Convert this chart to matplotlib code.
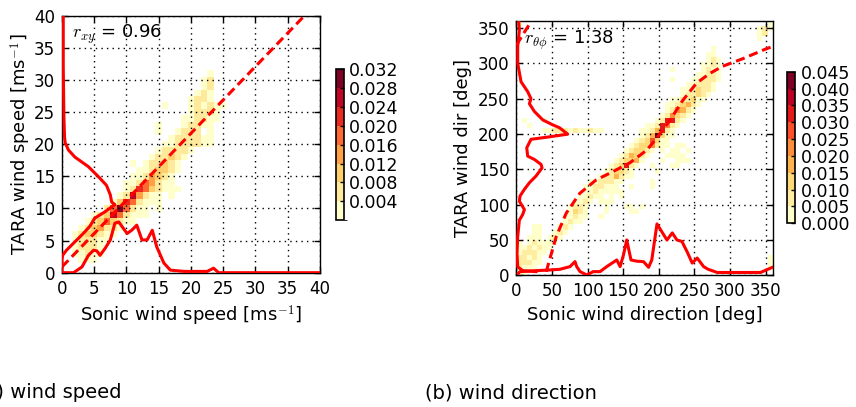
import numpy as np
import matplotlib
matplotlib.use("Agg")
import matplotlib.pyplot as plt
from matplotlib.colors import BoundaryNorm

plt.rcParams["font.family"] = "DejaVu Sans"
plt.rcParams["mathtext.fontset"] = "cm"

# ---------------- wind speed: joint density (1 m/s bins, centred on integers) ----------------
# each entry: (row y, first column x, density levels; '.' = empty, n -> level n)
speed_rows = [
    (31, 23, "1"),
    (30, 22, "12"),
    (29, 22, "12"),
    (28, 21, "121"),
    (27, 20, "1221"),
    (26, 16, "1...121211"),
    (25, 20, "12221"),
    (24, 19, "112211"),
    (23, 15, "1...12211"),
    (22, 15, "1..1222.1"),
    (21, 17, "1222211"),
    (20, 16, "11222211"),
    (19, 15, "122221"),
    (18, 14, "122321"),
    (17, 11, "1.122321"),
    (16, 12, "1123321"),
    (15, 11, "1124321"),
    (14, 10, "11254211"),
    (13, 10, "126532111"),
    (12, 9, "1274211.1"),
    (11, 8, "13652111"),
    (10, 7, "2585211.1"),
    (9, 5, "123752111"),
    (8, 4, "12353211"),
    (7, 3, "1234221"),
    (6, 2, "1233211"),
    (5, 2, "122211"),
    (4, 2, "12221"),
    (3, 2, "11211"),
    (2, 3, "111"),
]
speed_levels = [0.000, 0.004, 0.008, 0.012, 0.016, 0.020, 0.024, 0.028, 0.032]

# marginal density of the sonic speed (drawn along the x axis)
speed_x_pdf_x = [0, 1.8, 3.1, 4.1, 4.9, 5.4, 5.9, 6.7, 7.5, 8.2, 8.8, 9.3, 10.1,
                 10.8, 11.6, 12.4, 13.2, 14.0, 14.7, 15.8, 16.8, 18.9, 22.5,
                 23.5, 24.3, 40]
speed_x_pdf_y = [0, 0, 0.9, 2.7, 3.5, 3.4, 2.7, 3.8, 5.1, 7.7, 7.9, 7.2, 6.1,
                 6.6, 7.4, 5.1, 5.1, 6.6, 4.0, 1.5, 0.4, 0.2, 0.2,
                 0.7, 0, 0]
# marginal density of the TARA speed (drawn along the y axis)
speed_y_pdf_y = [40, 32, 24.2, 21.1, 20.2, 19.1, 18.0, 16.5, 15.0, 13.6, 12.1,
                 11.0, 10.6, 9.5, 8.5, 7.2, 6.1, 4.8, 3.5, 2.7, 2.0, 0]
speed_y_pdf_x = [0.2, 0.2, 0.3, 0.4, 0.5, 1.0, 2.0, 4.1, 5.6, 6.9, 7.5,
                 7.7, 8.2, 6.7, 5.1, 4.3, 3.3, 2.0, 0.7, 0.1, 0, 0]
# linear fit
speed_fit_x = [0, 40]
speed_fit_y = [0.9, 42.5]
speed_r = 0.96

# ---------------- wind direction: joint density (7.2 deg bins) ----------------
dir_rows = [
    (49, 0, "1"), (49, 49, "1"),
    (48, 47, "121"),
    (47, 47, "12"),
    (46, 47, "1"),
    (44, 38, "1"),
    (43, 37, "11"),
    (42, 37, "121"),
    (41, 36, "1121"),
    (40, 30, "1.....1211"),
    (39, 35, "11221"),
    (38, 30, "1...112221"),
    (37, 33, "112221"),
    (36, 32, "1123221"),
    (35, 32, "122321"),
    (34, 30, "1122311"),
    (33, 29, "1123421"),
    (32, 29, "125421"),
    (31, 28, "125321"),
    (30, 1, "1...1"), (30, 27, "127721"),
    (29, 2, "1"), (29, 25, "1127521"),
    (28, 5, "112221211211"), (28, 24, "1124721"),
    (27, 24, "1249311"),
    (26, 23, "1236311"),
    (25, 22, "12335211.11"),
    (24, 21, "123321.1.11.1"),
    (23, 20, "124321...1111"),
    (22, 19, "123341...1..111"),
    (21, 18, "123721..1...11"),
    (20, 17, "123321....1"),
    (19, 16, "1224211"),
    (18, 14, "1122211.....1"),
    (17, 13, "1122111..1...1"),
    (16, 13, "11211111"),
    (15, 12, "11211.1.1"),
    (14, 11, "1121.111"),
    (13, 10, "1221...1...11.1"),
    (12, 10, "1321...1....11"),
    (11, 9, "11211..1"),
    (10, 9, "1211"),
    (9, 3, "11...121"),
    (8, 3, "11..121"),
    (7, 2, "111.121"),
    (6, 0, "1.121111"),
    (5, 0, "1121211"),
    (4, 0, "122211"),
    (3, 0, "22121"), (3, 49, "1"),
    (2, 0, "22211"), (2, 49, "1"),
    (1, 0, "2111"), (1, 49, "1"),
    (0, 0, "11"),
]
dir_levels = [0.000, 0.005, 0.010, 0.015, 0.020, 0.025, 0.030, 0.035, 0.040, 0.045]
dir_ticks = ["0", "50", "100", "150", "200", "250", "300", "350"]

dir_x_pdf_x = [2.7, 5, 28.4, 46.3, 61.2, 75.3, 82.3, 84.7, 89.4, 98.8, 108.1,
               117.5, 126.9, 141, 145.7, 150.4, 155, 161, 169, 178.6, 185.7,
               190.2, 197.5, 211.5, 219, 225.5, 232.5, 240, 247, 254, 263,
               269, 282, 343, 359]
dir_x_pdf_y = [2.8, 5.2, 6.6, 7.5, 8.5, 12.3, 19.4, 12.3, 5.2, 0.5, 5.2,
               5.2, 12.3, 21.7, 12.3, 28.8, 50, 21.7, 20.0, 19.3, 11.3,
               21.7, 72.7, 50, 60, 50, 48, 33, 17.3, 24.4, 12.3,
               8.7, 4, 4, 11]
dir_y_pdf_y = [361.6, 347, 324, 300, 274, 260, 250, 243, 232, 220, 213, 209,
               199.8, 196, 192.5, 180.5, 168.7, 164, 157, 152, 140.6, 131,
               121.7, 112.3, 105, 93, 86, 78, 55, 31, 12, 6.6, 5.2]
dir_y_pdf_x = [3.2, 4.1, 1.8, 1.8, 6.5, 15.8, 20.5, 18.2, 25.2, 37, 51, 60.4,
               72.1, 46.3, 20.5, 14.5, 15.8, 25.2, 34.6, 36, 27.6, 18.2,
               11.2, 5.1, 4.1, 11.2, 8.8, 4.1, 1.8, 0.8, 1.8, 8.8, 27.6]
# circular fit, drawn as two pieces because it wraps at 360 deg
dir_fit_x = [42, 44.5, 56, 70, 89, 112, 136, 159, 183, 197, 216, 234, 253,
             272, 290, 319, 347, 360]
dir_fit_y = [5, 14.6, 55, 88, 116, 135, 147, 159, 177, 194, 220, 248, 272,
             286, 296, 307, 319, 324]
dir_fit_wrap_x = [0, 21]
dir_fit_wrap_y = [326, 360]
dir_r = 1.38


def grid_from_rows(rows, n, step):
    values = np.zeros((n, n))
    for row, col0, code in rows:
        for k, ch in enumerate(code):
            if ch != ".":
                values[row, col0 + k] = (int(ch) - 0.5) * step
    return np.ma.masked_equal(values, 0)


RED = "#ff0000"
DASH = (0, (3, 1.6))
cmap = plt.get_cmap("YlOrRd")
tick_fs = 12
label_fs = 13

fig = plt.figure(figsize=(8.56, 4.07), dpi=100)


def style_axes(ax):
    ax.grid(True, color="k", linestyle=(0, (1, 3)), linewidth=1.0)
    ax.set_axisbelow(False)
    ax.tick_params(direction="in", top=True, right=True, length=4, width=1,
                   labelsize=tick_fs, pad=5)
    for s in ax.spines.values():
        s.set_linewidth(1.0)


def style_cbar(cb):
    cb.outline.set_linewidth(1.2)
    cb.ax.tick_params(direction="in", length=3, width=1, labelsize=12.5, pad=4)


# ---- speed panel ----
ax1 = fig.add_axes([0.0724, 0.330, 0.3014, 0.6314])
edges1 = np.arange(-0.5, 40.5 + 1e-9, 1.0)
norm1 = BoundaryNorm(speed_levels, cmap.N)
m1 = ax1.pcolormesh(edges1, edges1, grid_from_rows(speed_rows, 41, 0.004),
                    cmap=cmap, norm=norm1, zorder=1)
ax1.plot(speed_x_pdf_x, speed_x_pdf_y, color=RED, lw=2.2, zorder=3)
ax1.plot(speed_y_pdf_x, speed_y_pdf_y, color=RED, lw=2.2, zorder=3)
ax1.plot(speed_fit_x, speed_fit_y, color=RED, lw=2.2, ls=DASH, zorder=3)
ax1.set_xlim(0, 40)
ax1.set_ylim(0, 40)
ax1.set_xticks(np.arange(0, 41, 5))
ax1.set_yticks(np.arange(0, 41, 5))
style_axes(ax1)
ax1.set_xlabel(r"Sonic wind speed [ms$^{-1}$]", fontsize=label_fs)
ax1.set_ylabel(r"TARA wind speed [ms$^{-1}$]", fontsize=label_fs, labelpad=1)
ax1.text(1.6, 37.1, r"$r_{xy}$ = %.2f" % speed_r, fontsize=label_fs, va="center")

cax1 = fig.add_axes([0.3925, 0.4595, 0.0088, 0.370])
cb1 = fig.colorbar(m1, cax=cax1, ticks=speed_levels[1:])
cb1.ax.set_yticklabels(["%.3f" % v for v in speed_levels[1:]])
style_cbar(cb1)

# ---- direction panel ----
ax2 = fig.add_axes([0.6033, 0.3236, 0.2993, 0.6248])
edges2 = np.linspace(0, 360, 51)
norm2 = BoundaryNorm(dir_levels, cmap.N)
m2 = ax2.pcolormesh(edges2, edges2, grid_from_rows(dir_rows, 50, 0.005),
                    cmap=cmap, norm=norm2, zorder=1)
ax2.plot(dir_x_pdf_x, dir_x_pdf_y, color=RED, lw=2.2, zorder=3)
ax2.plot(dir_y_pdf_x, dir_y_pdf_y, color=RED, lw=2.2, zorder=3)
ax2.plot(dir_fit_x, dir_fit_y, color=RED, lw=2.2, ls=DASH, zorder=3)
ax2.plot(dir_fit_wrap_x, dir_fit_wrap_y, color=RED, lw=2.2, ls=DASH, zorder=3)
ax2.set_xlim(0, 360)
ax2.set_ylim(0, 360)
ax2.set_xticks(np.arange(0, 351, 50))
ax2.set_yticks(np.arange(0, 351, 50))
ax2.set_xticklabels(dir_ticks)
style_axes(ax2)
ax2.set_xlabel("Sonic wind direction [deg]", fontsize=label_fs)
ax2.set_ylabel("TARA wind dir [deg]", fontsize=label_fs)
ax2.text(11, 332, r"$r_{\theta\phi}$ = %.2f" % dir_r, fontsize=label_fs, va="center")

cax2 = fig.add_axes([0.9198, 0.4514, 0.0090, 0.3725])
cb2 = fig.colorbar(m2, cax=cax2, ticks=dir_levels)
cb2.ax.set_yticklabels(["%.3f" % v for v in dir_levels])
style_cbar(cb2)

# ---- sub-captions ----
fig.text(-0.027, 0.035, "(a) wind speed", fontsize=14, va="center")
fig.text(0.4965, 0.035, "(b) wind direction", fontsize=14, va="center")

fig.savefig("out.png", dpi=100)
